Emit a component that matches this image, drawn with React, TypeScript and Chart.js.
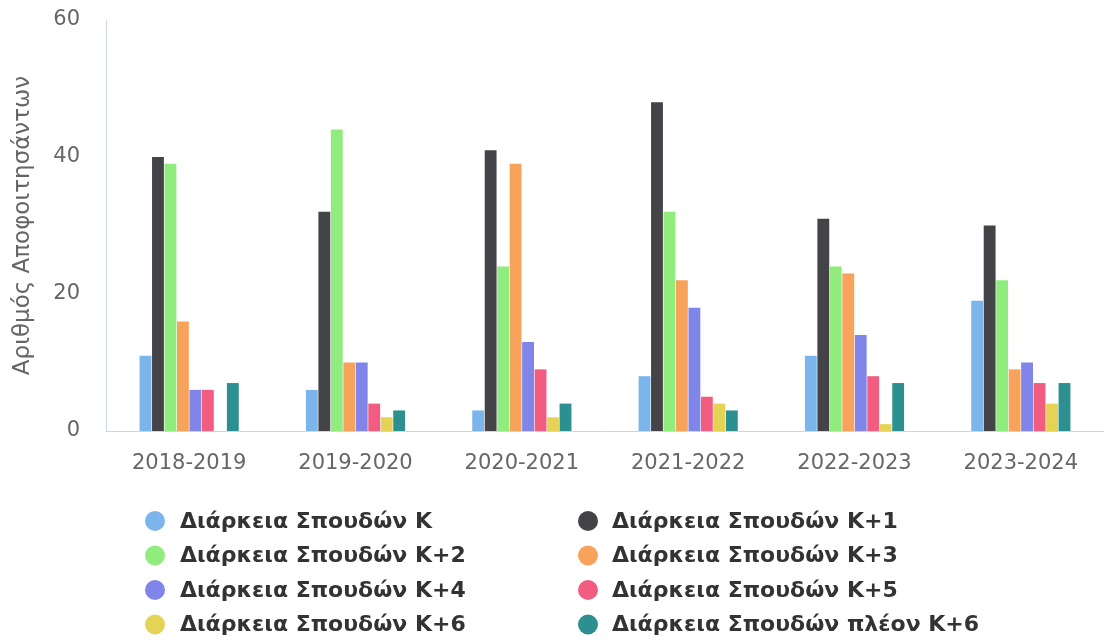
import { useEffect, useRef } from "react";
import { Chart, registerables } from "chart.js";

Chart.register(...registerables);

const categories = ["2018-2019", "2019-2020", "2020-2021", "2021-2022", "2022-2023", "2023-2024"];

const seriesNames = [
  "Διάρκεια Σπουδών Κ",
  "Διάρκεια Σπουδών Κ+1",
  "Διάρκεια Σπουδών Κ+2",
  "Διάρκεια Σπουδών Κ+3",
  "Διάρκεια Σπουδών Κ+4",
  "Διάρκεια Σπουδών Κ+5",
  "Διάρκεια Σπουδών Κ+6",
  "Διάρκεια Σπουδών πλέον Κ+6",
];

const seriesColors = ["#7cb5ec", "#434348", "#90ed7d", "#f7a35c", "#8085e9", "#f15c80", "#e4d354", "#2b908f"];

const valuesK = [11, 6, 3, 8, 11, 19];
const valuesK1 = [40, 32, 41, 48, 31, 30];
const valuesK2 = [39, 44, 24, 32, 24, 22];
const valuesK3 = [16, 10, 39, 22, 23, 9];
const valuesK4 = [6, 10, 13, 18, 14, 10];
const valuesK5 = [6, 4, 9, 5, 8, 7];
const valuesK6 = [0, 2, 2, 4, 1, 4];
const valuesMoreK6 = [7, 3, 4, 3, 7, 7];

const allValues = [valuesK, valuesK1, valuesK2, valuesK3, valuesK4, valuesK5, valuesK6, valuesMoreK6];

const yTitle = "Αριθμός Αποφοιτησάντων";
const yMin = 0;
const yMax = 60;
const yStep = 20;

const gridLegend = {
  id: "gridLegend",
  afterDraw(chart: any) {
    const ctx = chart.ctx;
    ctx.save();
    ctx.font = "bold 22px 'DejaVu Sans'";
    ctx.textBaseline = "middle";
    ctx.textAlign = "left";
    chart.data.datasets.forEach((ds: any, i: number) => {
      const col = i % 2;
      const row = Math.floor(i / 2);
      const cx = col === 0 ? 155 : 588;
      const cy = 521 + row * 34.5;
      ctx.beginPath();
      ctx.arc(cx, cy, 10, 0, Math.PI * 2);
      ctx.fillStyle = ds.backgroundColor;
      ctx.fill();
      ctx.fillStyle = "#333333";
      ctx.fillText(ds.label, col === 0 ? 180 : 612, cy + 1);
    });
    ctx.restore();
  },
};

export default function App() {
  const canvasRef = useRef<HTMLCanvasElement | null>(null);

  useEffect(() => {
    document.body.style.margin = "0";
    const canvas = canvasRef.current;
    if (!canvas) return;
    const chart = new Chart(canvas, {
      type: "bar",
      data: {
        labels: categories,
        datasets: allValues.map((vals, i) => ({
          label: seriesNames[i],
          data: vals,
          backgroundColor: seriesColors[i],
          categoryPercentage: 0.6,
          barPercentage: 0.95,
        })),
      },
      options: {
        animation: false,
        responsive: true,
        maintainAspectRatio: false,
        layout: { padding: { top: 20, right: 0, left: 0, bottom: 0 } },
        plugins: {
          legend: { display: false },
          tooltip: { enabled: false },
        },
        scales: {
          x: {
            grid: { display: false },
            border: { display: true, color: "#ccd6eb", width: 1 },
            ticks: {
              color: "#666666",
              font: { family: "'DejaVu Sans'", size: 21 },
              padding: 12,
              maxRotation: 0,
            },
            afterFit: (scale: any) => {
              scale.height = 644 - 431;
            },
          },
          y: {
            min: yMin,
            max: yMax,
            grid: { display: false },
            border: { display: true, color: "#ccd6eb", width: 1 },
            ticks: {
              stepSize: yStep,
              color: "#666666",
              font: { family: "'DejaVu Sans'", size: 21 },
              padding: 18,
            },
            title: {
              display: true,
              text: yTitle,
              color: "#666666",
              font: { family: "'DejaVu Sans'", size: 23 },
              padding: { top: 9, bottom: 0 },
            },
            afterFit: (scale: any) => {
              scale.width = 106;
              scale.paddingTop = 0;
              scale.paddingBottom = 0;
            },
          },
        },
      },
      plugins: [gridLegend],
    });
    return () => chart.destroy();
  }, []);

  return (
    <div style={{ width: 1104, height: 644, position: "relative" }}>
      <canvas ref={canvasRef} />
    </div>
  );
}
